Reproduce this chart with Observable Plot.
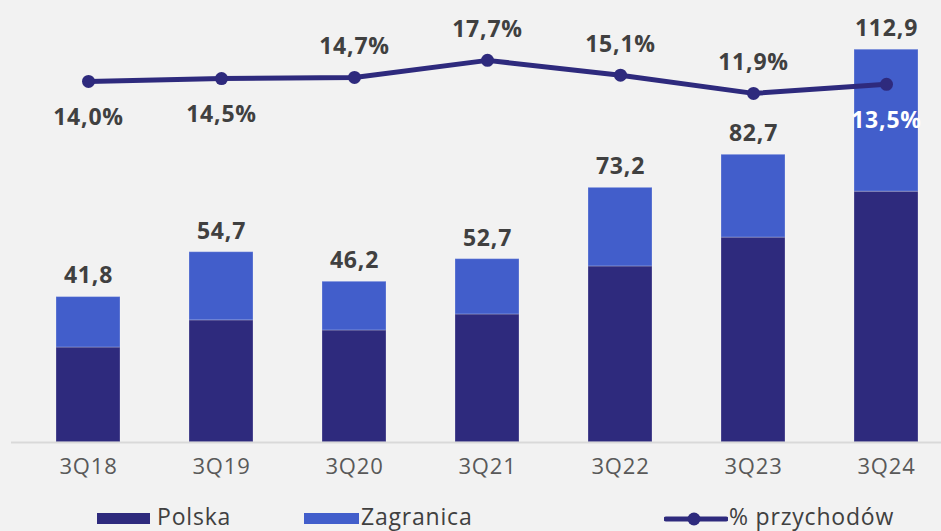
<!DOCTYPE html>
<html>
<head>
<meta charset="utf-8">
<script src="https://cdn.jsdelivr.net/npm/d3@7"></script>
<script src="https://cdn.jsdelivr.net/npm/@observablehq/plot@0.6"></script>
<style>
  html, body { margin: 0; padding: 0; background: #f2f2f2; }
  #wrap { position: relative; width: 941px; height: 531px; background: #f2f2f2; font-family: "Open Sans", sans-serif; overflow: hidden; }
  #chart svg { display: block; }
  #chart text { letter-spacing: 0.8px; }
  .lg { position: absolute; font-size: 23px; color: #404040; line-height: 1; top: 505px; white-space: nowrap; letter-spacing: 0.8px; }
  .sw { position: absolute; top: 513px; height: 11px; }
</style>
</head>
<body>
<div id="wrap">
  <div id="chart"></div>
  <div class="sw" style="left:97px;width:53px;background:#2e2a7d"></div>
  <div class="lg" style="left:157px">Polska</div>
  <div class="sw" style="left:304px;width:55px;background:#425ecb"></div>
  <div class="lg" style="left:361px">Zagranica</div>
  <svg style="position:absolute;left:664px;top:508px" width="64" height="22">
    <line x1="2" y1="11" x2="62" y2="11" stroke="#2e2a7d" stroke-width="5" stroke-linecap="round"/>
    <circle cx="30" cy="11" r="6.5" fill="#2e2a7d"/>
  </svg>
  <div class="lg" style="left:729px">% przychodów</div>
</div>
<script>
const quarters = ["3Q18", "3Q19", "3Q20", "3Q21", "3Q22", "3Q23", "3Q24"];
const polska = [27.3, 35.1, 32.2, 36.8, 50.6, 58.9, 72.1];
const totals = [41.8, 54.7, 46.2, 52.7, 73.2, 82.7, 112.9];
const zagranica = totals.map((t, i) => +(t - polska[i]).toFixed(1));
const pct = [14.0, 14.5, 14.7, 17.7, 15.1, 11.9, 13.5];
const pctLabelPos = ["below", "below", "above", "above", "above", "above", "below"];

const seriesNames = ["Polska", "Zagranica"];
const seriesColors = ["#2e2a7d", "#425ecb"];
const lineColor = "#2e2a7d";

// secondary axis (percent) mapped onto the bar axis
const yMax = 121.3;
const pMin = -49.4, pMax = 24.7;
const toY = v => (v - pMin) / (pMax - pMin) * yMax;

const fmt = v => v.toFixed(1).replace(".", ",");

const bars = [];
quarters.forEach((q, i) => {
  bars.push({q, s: "Polska", v: polska[i]});
  bars.push({q, s: "Zagranica", v: zagranica[i]});
});
const tot = quarters.map((q, i) => ({q, v: totals[i]}));
const line = quarters.map((q, i) => ({q, p: pct[i], pos: pctLabelPos[i], last: i === quarters.length - 1}));

const chart = Plot.plot({
  width: 941,
  height: 500,
  marginLeft: 11,
  marginRight: 0,
  marginTop: 20,
  marginBottom: 58,
  style: {background: "transparent", fontFamily: "Open Sans, sans-serif"},
  x: {domain: quarters, range: [19.7, 954.9], paddingInner: 0.52, paddingOuter: 0.26, label: null},
  y: {domain: [0, yMax], axis: null},
  color: {domain: seriesNames, range: seriesColors},
  marks: [
    Plot.barY(bars, {x: "q", y: "v", fill: "s", stroke: "#ffffff", strokeOpacity: 0.25, strokeWidth: 1}),
    Plot.ruleY([0], {stroke: "#d9d9d9", strokeWidth: 2}),
    Plot.axisX({tickSize: 0, tickPadding: 16, fontSize: 22, fill: "#595959", label: null}),
    Plot.text(tot, {x: "q", y: "v", text: d => fmt(d.v), dy: -21, fontSize: 23, fontWeight: 700, fill: "#404040"}),
    Plot.line(line, {x: "q", y: d => toY(d.p), stroke: lineColor, strokeWidth: 5}),
    Plot.dot(line, {x: "q", y: d => toY(d.p), r: 6.5, fill: lineColor}),
    Plot.text(line.filter(d => d.pos === "above"), {x: "q", y: d => toY(d.p), text: d => fmt(d.p) + "%", dy: -31, fontSize: 23, fontWeight: 700, fill: "#404040"}),
    Plot.text(line.filter(d => d.pos === "below"), {x: "q", y: d => toY(d.p), text: d => fmt(d.p) + "%", dy: 36, fontSize: 23, fontWeight: 700, fill: d => d.last ? "#ffffff" : "#404040"})
  ]
});
document.getElementById("chart").appendChild(chart);
</script>
</body>
</html>
